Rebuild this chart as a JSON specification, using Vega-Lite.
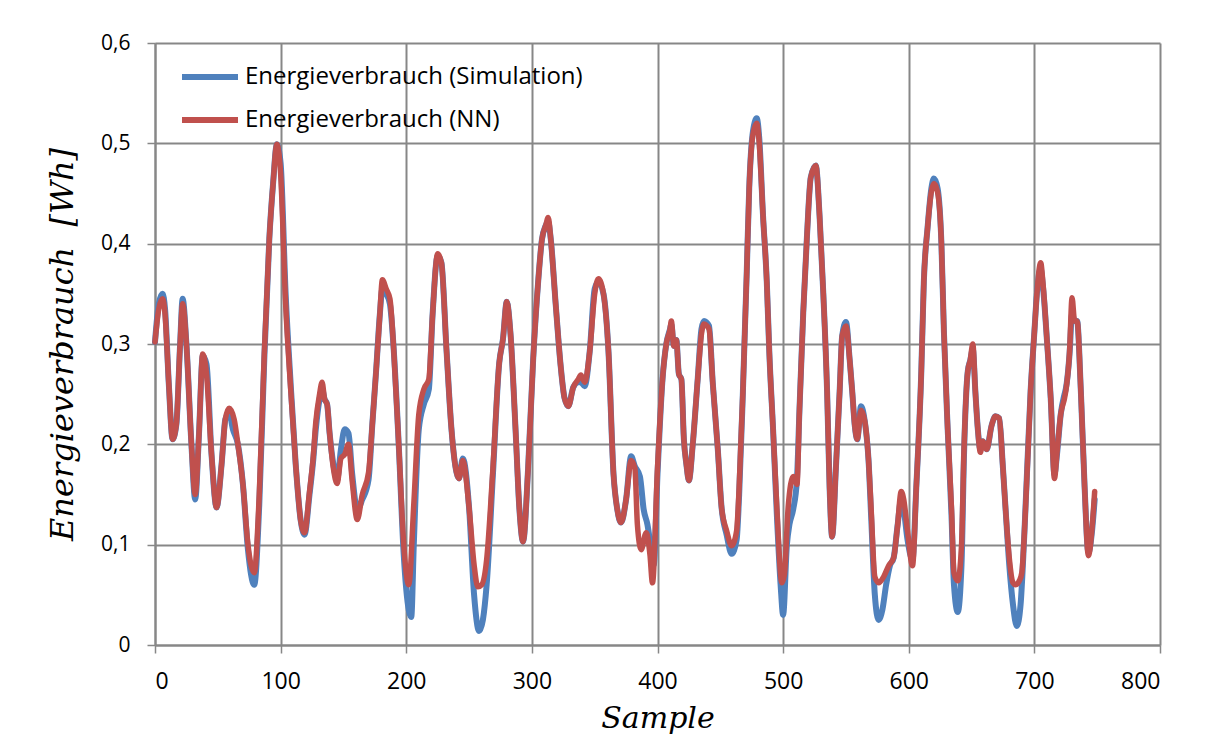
{
 "$schema": "https://vega.github.io/schema/vega-lite/v6.json",
 "width": 1005,
 "height": 602,
 "autosize": "none",
 "padding": {"left": 155, "top": 43, "right": 53, "bottom": 95},
 "background": "white",
 "config": {"view": {"stroke": null}, "font": "Open Sans"},
 "datasets": {
  "sim": [
   {"s":0,"v":0.302},{"s":3,"v":0.34},{"s":6,"v":0.35},{"s":8,"v":0.335},{"s":11,"v":0.26},{"s":14,"v":0.205},{"s":17,"v":0.22},{"s":20,"v":0.3},{"s":22,"v":0.345},{"s":25,"v":0.3},{"s":29,"v":0.2},{"s":32,"v":0.145},{"s":35,"v":0.21},{"s":38,"v":0.288},{"s":41,"v":0.28},{"s":45,"v":0.19},{"s":49,"v":0.137},{"s":53,"v":0.18},{"s":56,"v":0.225},{"s":59,"v":0.232},{"s":62,"v":0.215},{"s":66,"v":0.2},{"s":70,"v":0.16},{"s":74,"v":0.095},{"s":79,"v":0.06},{"s":83,"v":0.14},{"s":87,"v":0.285},{"s":91,"v":0.405},{"s":94,"v":0.46},{"s":97,"v":0.499},{"s":100,"v":0.48},{"s":104,"v":0.35},{"s":108,"v":0.26},{"s":112,"v":0.18},{"s":116,"v":0.124},{"s":119,"v":0.11},{"s":123,"v":0.15},{"s":126,"v":0.185},{"s":128,"v":0.215},{"s":131,"v":0.245},{"s":133,"v":0.255},{"s":135,"v":0.245},{"s":137,"v":0.24},{"s":139,"v":0.211},{"s":142,"v":0.18},{"s":145,"v":0.165},{"s":148,"v":0.195},{"s":151,"v":0.215},{"s":154,"v":0.211},{"s":157,"v":0.17},{"s":161,"v":0.135},{"s":165,"v":0.145},{"s":170,"v":0.165},{"s":173,"v":0.22},{"s":176,"v":0.273},{"s":179,"v":0.33},{"s":181,"v":0.355},{"s":184,"v":0.35},{"s":187,"v":0.34},{"s":190,"v":0.295},{"s":194,"v":0.2},{"s":198,"v":0.09},{"s":202,"v":0.035},{"s":204,"v":0.028},{"s":206,"v":0.1},{"s":210,"v":0.215},{"s":214,"v":0.24},{"s":218,"v":0.255},{"s":221,"v":0.33},{"s":225,"v":0.388},{"s":228,"v":0.381},{"s":232,"v":0.295},{"s":236,"v":0.215},{"s":240,"v":0.172},{"s":242,"v":0.166},{"s":245,"v":0.186},{"s":250,"v":0.137},{"s":254,"v":0.05},{"s":258,"v":0.014},{"s":261,"v":0.025},{"s":264,"v":0.06},{"s":269,"v":0.17},{"s":274,"v":0.281},{"s":277,"v":0.305},{"s":280,"v":0.342},{"s":283,"v":0.31},{"s":287,"v":0.215},{"s":290,"v":0.137},{"s":293,"v":0.103},{"s":297,"v":0.176},{"s":301,"v":0.284},{"s":305,"v":0.362},{"s":308,"v":0.404},{"s":311,"v":0.418},{"s":313,"v":0.422},{"s":315,"v":0.405},{"s":319,"v":0.339},{"s":323,"v":0.277},{"s":326,"v":0.246},{"s":329,"v":0.238},{"s":333,"v":0.257},{"s":337,"v":0.262},{"s":339,"v":0.262},{"s":342,"v":0.258},{"s":346,"v":0.292},{"s":350,"v":0.355},{"s":353,"v":0.362},{"s":357,"v":0.35},{"s":361,"v":0.292},{"s":365,"v":0.17},{"s":368,"v":0.135},{"s":371,"v":0.122},{"s":375,"v":0.145},{"s":379,"v":0.188},{"s":382,"v":0.178},{"s":386,"v":0.168},{"s":389,"v":0.135},{"s":392,"v":0.12},{"s":395,"v":0.095},{"s":397,"v":0.08},{"s":400,"v":0.17},{"s":404,"v":0.265},{"s":407,"v":0.3},{"s":410,"v":0.315},{"s":411,"v":0.32},{"s":413,"v":0.298},{"s":415,"v":0.304},{"s":417,"v":0.27},{"s":419,"v":0.265},{"s":421,"v":0.205},{"s":423,"v":0.18},{"s":425,"v":0.164},{"s":428,"v":0.199},{"s":432,"v":0.265},{"s":435,"v":0.315},{"s":437,"v":0.323},{"s":441,"v":0.318},{"s":444,"v":0.261},{"s":448,"v":0.195},{"s":451,"v":0.137},{"s":455,"v":0.11},{"s":459,"v":0.091},{"s":463,"v":0.105},{"s":465,"v":0.15},{"s":468,"v":0.253},{"s":471,"v":0.37},{"s":473,"v":0.455},{"s":476,"v":0.512},{"s":479,"v":0.525},{"s":481,"v":0.505},{"s":484,"v":0.428},{"s":487,"v":0.362},{"s":489,"v":0.292},{"s":492,"v":0.215},{"s":495,"v":0.13},{"s":498,"v":0.06},{"s":500,"v":0.03},{"s":503,"v":0.1},{"s":505,"v":0.12},{"s":508,"v":0.135},{"s":511,"v":0.165},{"s":513,"v":0.234},{"s":516,"v":0.331},{"s":519,"v":0.408},{"s":522,"v":0.466},{"s":526,"v":0.478},{"s":529,"v":0.428},{"s":532,"v":0.35},{"s":535,"v":0.253},{"s":537,"v":0.157},{"s":539,"v":0.108},{"s":542,"v":0.176},{"s":545,"v":0.253},{"s":547,"v":0.308},{"s":550,"v":0.322},{"s":553,"v":0.284},{"s":555,"v":0.253},{"s":557,"v":0.219},{"s":559,"v":0.205},{"s":562,"v":0.238},{"s":565,"v":0.223},{"s":568,"v":0.184},{"s":570,"v":0.13},{"s":573,"v":0.05},{"s":576,"v":0.025},{"s":579,"v":0.035},{"s":582,"v":0.06},{"s":585,"v":0.079},{"s":588,"v":0.087},{"s":591,"v":0.118},{"s":594,"v":0.145},{"s":596,"v":0.135},{"s":599,"v":0.105},{"s":603,"v":0.085},{"s":606,"v":0.157},{"s":610,"v":0.273},{"s":612,"v":0.362},{"s":615,"v":0.416},{"s":618,"v":0.455},{"s":620,"v":0.465},{"s":623,"v":0.455},{"s":626,"v":0.4},{"s":628,"v":0.312},{"s":631,"v":0.215},{"s":634,"v":0.13},{"s":636,"v":0.06},{"s":639,"v":0.033},{"s":642,"v":0.08},{"s":644,"v":0.19},{"s":647,"v":0.273},{"s":649,"v":0.284},{"s":651,"v":0.295},{"s":653,"v":0.253},{"s":655,"v":0.215},{"s":657,"v":0.195},{"s":659,"v":0.203},{"s":662,"v":0.195},{"s":666,"v":0.219},{"s":669,"v":0.228},{"s":672,"v":0.226},{"s":675,"v":0.176},{"s":677,"v":0.137},{"s":680,"v":0.08},{"s":683,"v":0.04},{"s":686,"v":0.019},{"s":689,"v":0.04},{"s":692,"v":0.11},{"s":697,"v":0.253},{"s":700,"v":0.312},{"s":702,"v":0.35},{"s":705,"v":0.375},{"s":707,"v":0.355},{"s":710,"v":0.304},{"s":713,"v":0.246},{"s":716,"v":0.17},{"s":718,"v":0.19},{"s":721,"v":0.23},{"s":724,"v":0.25},{"s":725,"v":0.255},{"s":728,"v":0.29},{"s":730,"v":0.33},{"s":732,"v":0.323},{"s":734,"v":0.323},{"s":737,"v":0.253},{"s":740,"v":0.157},{"s":743,"v":0.092},{"s":746,"v":0.115},{"s":748,"v":0.145}
  ],
  "nn": [
   {"s":0,"v":0.302},{"s":3,"v":0.335},{"s":6,"v":0.345},{"s":8,"v":0.33},{"s":11,"v":0.26},{"s":14,"v":0.205},{"s":17,"v":0.22},{"s":20,"v":0.3},{"s":22,"v":0.34},{"s":25,"v":0.3},{"s":29,"v":0.2},{"s":32,"v":0.15},{"s":35,"v":0.21},{"s":38,"v":0.29},{"s":41,"v":0.27},{"s":45,"v":0.19},{"s":49,"v":0.137},{"s":53,"v":0.18},{"s":56,"v":0.225},{"s":59,"v":0.236},{"s":63,"v":0.225},{"s":66,"v":0.2},{"s":70,"v":0.16},{"s":74,"v":0.1},{"s":79,"v":0.072},{"s":83,"v":0.15},{"s":87,"v":0.29},{"s":91,"v":0.405},{"s":94,"v":0.46},{"s":97,"v":0.499},{"s":100,"v":0.47},{"s":104,"v":0.34},{"s":108,"v":0.255},{"s":112,"v":0.18},{"s":116,"v":0.124},{"s":119,"v":0.112},{"s":123,"v":0.153},{"s":126,"v":0.188},{"s":128,"v":0.222},{"s":131,"v":0.25},{"s":133,"v":0.262},{"s":135,"v":0.245},{"s":137,"v":0.24},{"s":139,"v":0.211},{"s":142,"v":0.176},{"s":145,"v":0.161},{"s":148,"v":0.186},{"s":151,"v":0.19},{"s":154,"v":0.2},{"s":157,"v":0.163},{"s":161,"v":0.125},{"s":165,"v":0.15},{"s":170,"v":0.172},{"s":173,"v":0.22},{"s":176,"v":0.273},{"s":179,"v":0.33},{"s":181,"v":0.364},{"s":184,"v":0.355},{"s":187,"v":0.345},{"s":190,"v":0.295},{"s":194,"v":0.2},{"s":198,"v":0.1},{"s":202,"v":0.06},{"s":206,"v":0.14},{"s":210,"v":0.23},{"s":214,"v":0.255},{"s":218,"v":0.265},{"s":221,"v":0.33},{"s":225,"v":0.39},{"s":228,"v":0.381},{"s":232,"v":0.295},{"s":236,"v":0.215},{"s":240,"v":0.172},{"s":242,"v":0.166},{"s":245,"v":0.184},{"s":250,"v":0.137},{"s":254,"v":0.08},{"s":257,"v":0.058},{"s":260,"v":0.06},{"s":264,"v":0.085},{"s":269,"v":0.176},{"s":274,"v":0.281},{"s":277,"v":0.305},{"s":280,"v":0.342},{"s":283,"v":0.31},{"s":287,"v":0.215},{"s":290,"v":0.137},{"s":293,"v":0.103},{"s":297,"v":0.176},{"s":301,"v":0.284},{"s":305,"v":0.362},{"s":308,"v":0.404},{"s":311,"v":0.418},{"s":313,"v":0.426},{"s":315,"v":0.405},{"s":319,"v":0.339},{"s":323,"v":0.277},{"s":326,"v":0.246},{"s":329,"v":0.238},{"s":333,"v":0.257},{"s":337,"v":0.265},{"s":339,"v":0.269},{"s":342,"v":0.262},{"s":346,"v":0.292},{"s":350,"v":0.35},{"s":353,"v":0.365},{"s":357,"v":0.35},{"s":361,"v":0.292},{"s":365,"v":0.17},{"s":368,"v":0.135},{"s":371,"v":0.122},{"s":375,"v":0.145},{"s":379,"v":0.184},{"s":382,"v":0.176},{"s":384,"v":0.12},{"s":387,"v":0.095},{"s":391,"v":0.112},{"s":394,"v":0.09},{"s":396,"v":0.062},{"s":400,"v":0.176},{"s":404,"v":0.265},{"s":407,"v":0.3},{"s":410,"v":0.315},{"s":411,"v":0.323},{"s":413,"v":0.298},{"s":415,"v":0.304},{"s":417,"v":0.27},{"s":419,"v":0.265},{"s":421,"v":0.205},{"s":423,"v":0.18},{"s":425,"v":0.164},{"s":428,"v":0.199},{"s":432,"v":0.265},{"s":435,"v":0.31},{"s":437,"v":0.32},{"s":441,"v":0.315},{"s":444,"v":0.261},{"s":448,"v":0.195},{"s":451,"v":0.137},{"s":455,"v":0.114},{"s":459,"v":0.099},{"s":463,"v":0.114},{"s":465,"v":0.157},{"s":468,"v":0.253},{"s":471,"v":0.37},{"s":473,"v":0.455},{"s":476,"v":0.509},{"s":479,"v":0.52},{"s":481,"v":0.5},{"s":484,"v":0.428},{"s":487,"v":0.362},{"s":489,"v":0.292},{"s":492,"v":0.215},{"s":495,"v":0.137},{"s":499,"v":0.062},{"s":501,"v":0.07},{"s":504,"v":0.137},{"s":508,"v":0.168},{"s":511,"v":0.16},{"s":513,"v":0.234},{"s":516,"v":0.331},{"s":519,"v":0.408},{"s":522,"v":0.466},{"s":526,"v":0.478},{"s":529,"v":0.428},{"s":532,"v":0.35},{"s":535,"v":0.253},{"s":537,"v":0.157},{"s":539,"v":0.108},{"s":542,"v":0.176},{"s":545,"v":0.253},{"s":547,"v":0.308},{"s":550,"v":0.318},{"s":553,"v":0.284},{"s":555,"v":0.253},{"s":557,"v":0.219},{"s":559,"v":0.205},{"s":562,"v":0.234},{"s":565,"v":0.223},{"s":568,"v":0.184},{"s":570,"v":0.137},{"s":573,"v":0.068},{"s":576,"v":0.062},{"s":580,"v":0.068},{"s":584,"v":0.079},{"s":588,"v":0.087},{"s":591,"v":0.118},{"s":594,"v":0.153},{"s":596,"v":0.145},{"s":599,"v":0.114},{"s":603,"v":0.079},{"s":606,"v":0.157},{"s":610,"v":0.273},{"s":612,"v":0.362},{"s":615,"v":0.416},{"s":618,"v":0.452},{"s":620,"v":0.46},{"s":623,"v":0.451},{"s":626,"v":0.4},{"s":628,"v":0.312},{"s":631,"v":0.215},{"s":634,"v":0.137},{"s":636,"v":0.072},{"s":639,"v":0.064},{"s":642,"v":0.099},{"s":644,"v":0.195},{"s":647,"v":0.273},{"s":649,"v":0.284},{"s":651,"v":0.3},{"s":653,"v":0.253},{"s":655,"v":0.215},{"s":657,"v":0.192},{"s":659,"v":0.203},{"s":662,"v":0.195},{"s":666,"v":0.219},{"s":669,"v":0.228},{"s":672,"v":0.226},{"s":675,"v":0.176},{"s":677,"v":0.137},{"s":680,"v":0.087},{"s":683,"v":0.062},{"s":685,"v":0.06},{"s":688,"v":0.064},{"s":690,"v":0.072},{"s":693,"v":0.137},{"s":697,"v":0.253},{"s":700,"v":0.312},{"s":702,"v":0.35},{"s":705,"v":0.381},{"s":707,"v":0.358},{"s":710,"v":0.304},{"s":713,"v":0.246},{"s":716,"v":0.166},{"s":718,"v":0.192},{"s":721,"v":0.23},{"s":724,"v":0.246},{"s":725,"v":0.253},{"s":728,"v":0.292},{"s":730,"v":0.346},{"s":732,"v":0.323},{"s":734,"v":0.323},{"s":737,"v":0.253},{"s":740,"v":0.157},{"s":743,"v":0.089},{"s":746,"v":0.118},{"s":748,"v":0.153}
  ]
 },
 "encoding": {
  "x": {
   "field": "s", "type": "quantitative",
   "scale": {"domain": [0, 800], "nice": false},
   "axis": {
    "values": [0,100,200,300,400,500,600,700,800],
    "grid": true, "gridColor": "#878787", "gridWidth": 2,
    "domainColor": "#878787", "domainWidth": 2,
    "tickColor": "#878787", "tickWidth": 1.5, "tickSize": 8,
    "labelFontSize": 23, "labelColor": "#000000", "labelPadding": 17, "labelFont": "Open Sans",
    "title": "Sample", "titleFont": "DejaVu Serif", "titleFontStyle": "italic", "titleFontWeight": "normal",
    "titleFontSize": 30, "titleColor": "#000000", "titlePadding": 10
   }
  },
  "y": {
   "field": "v", "type": "quantitative",
   "scale": {"domain": [0, 0.6], "nice": false},
   "axis": {
    "values": [0,0.1,0.2,0.3,0.4,0.5,0.6],
    "labelExpr": "datum.value == 0 ? '0' : replace(format(datum.value, '.1f'), '.', ',')",
    "grid": true, "gridColor": "#878787", "gridWidth": 2,
    "domainColor": "#878787", "domainWidth": 2,
    "tickColor": "#878787", "tickWidth": 1.5, "tickSize": 8,
    "labelFontSize": 21, "labelColor": "#000000", "labelPadding": 17, "labelFont": "Open Sans",
    "title": "Energieverbrauch\u00a0\u00a0[Wh]", "titleFont": "DejaVu Serif", "titleFontStyle": "italic", "titleFontWeight": "normal",
    "titleFontSize": 32, "titleColor": "#000000", "titlePadding": 21
   }
  },
  "color": {
   "field": "series", "type": "nominal",
   "scale": {"domain": ["Energieverbrauch (Simulation)", "Energieverbrauch (NN)"], "range": ["#4F81BD", "#C0504D"]},
   "legend": {
    "orient": "none", "legendX": 24, "legendY": 3, "title": null,
    "symbolType": "stroke", "symbolSize": 3136, "symbolStrokeWidth": 6,
    "labelFontSize": 24, "labelColor": "#000000", "labelFont": "Open Sans", "labelOffset": 4, "labelLimit": 0,
    "rowPadding": -15, "padding": 0
   }
  }
 },
 "layer": [
  {
   "data": {"name": "sim"},
   "transform": [{"calculate": "'Energieverbrauch (Simulation)'", "as": "series"}],
   "mark": {"type": "line", "strokeWidth": 6, "interpolate": "monotone", "strokeCap": "round", "strokeJoin": "round"}
  },
  {
   "data": {"name": "nn"},
   "transform": [{"calculate": "'Energieverbrauch (NN)'", "as": "series"}],
   "mark": {"type": "line", "strokeWidth": 5.5, "interpolate": "monotone", "strokeCap": "round", "strokeJoin": "round"}
  }
 ]
}
